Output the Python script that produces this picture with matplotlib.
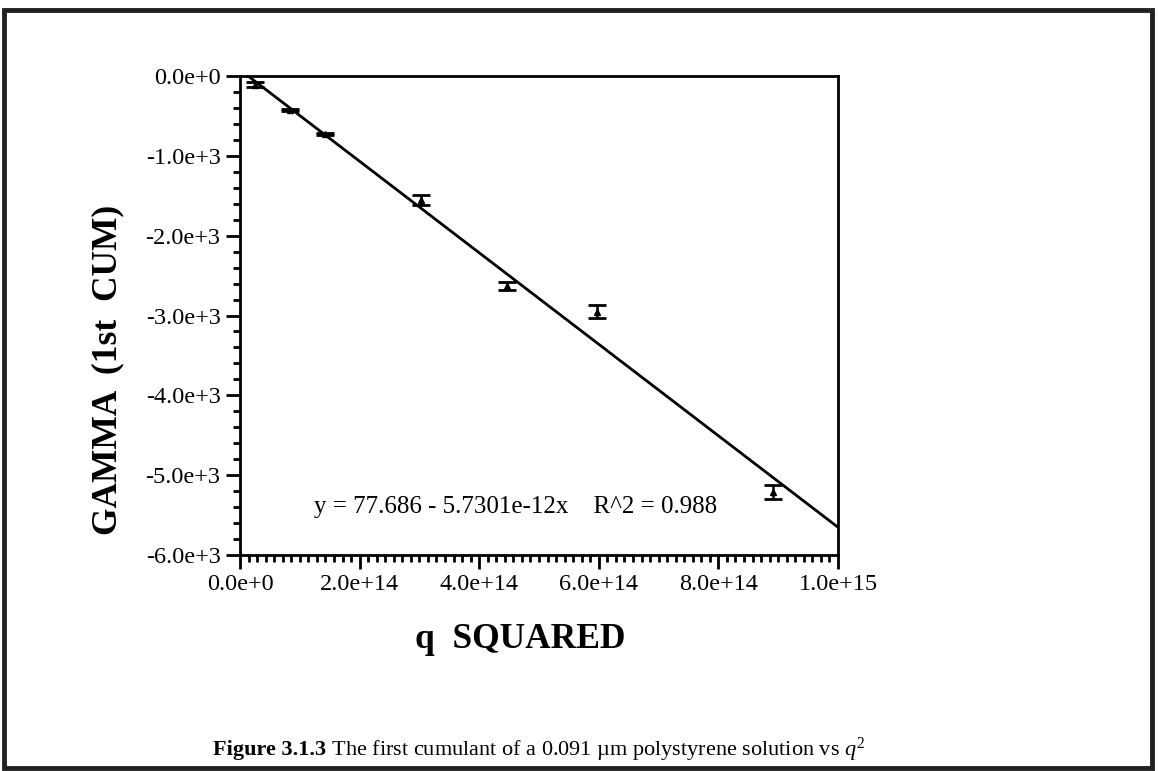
import matplotlib
matplotlib.use("Agg")
import matplotlib.pyplot as plt
import numpy as np
from matplotlib.ticker import MultipleLocator
from matplotlib.patches import Rectangle

# ---- data ----
q2 = [2.5e13, 8.4e13, 1.42e14, 3.03e14, 4.46e14, 5.97e14, 8.91e14]
gamma = [-110, -425, -727, -1550, -2630, -2950, -5210]
gamma_err = [30, 15, 15, 60, 50, 80, 90]
fit_a = 77.686
fit_b = -5.7301e-12
xticks = [0, 2e14, 4e14, 6e14, 8e14, 1e15]
xticklabels = ["0.0e+0", "2.0e+14", "4.0e+14", "6.0e+14", "8.0e+14", "1.0e+15"]
yticks = [0, -1000, -2000, -3000, -4000, -5000, -6000]
yticklabels = ["0.0e+0", "-1.0e+3", "-2.0e+3", "-3.0e+3", "-4.0e+3", "-5.0e+3", "-6.0e+3"]

plt.rcParams['font.family'] = ['Liberation Serif', 'DejaVu Serif']
plt.rcParams['mathtext.fontset'] = 'custom'
plt.rcParams['mathtext.rm'] = 'Liberation Serif'
plt.rcParams['mathtext.it'] = 'Liberation Serif:italic'


def fx(px):
    return px/1159


def fy(py):
    return 1-py/771


fig = plt.figure(figsize=(11.59, 7.71), dpi=100)
ax = fig.add_axes([fx(240), fy(555), (838-240)/1159, (555-76)/771])

xfit = np.array([0, 1e15])
ax.plot(xfit, fit_a + fit_b*xfit, color='black', lw=2, zorder=2)
ax.errorbar(q2, gamma, yerr=gamma_err, fmt='^', ms=4, color='black',
            ecolor='black', elinewidth=1.8, capsize=6.5, capthick=2, zorder=3)

ax.set_xlim(0, 1e15)
ax.set_ylim(-6000, 0)
ax.set_xticks(xticks)
ax.set_xticklabels(xticklabels)
ax.set_yticks(yticks)
ax.set_yticklabels(yticklabels)
ax.xaxis.set_minor_locator(MultipleLocator(2e13/1.4))
ax.yaxis.set_minor_locator(MultipleLocator(200))
ax.tick_params(axis='both', which='major', direction='out', length=10, width=2,
               labelsize=17.5, top=False, right=False, pad=4)
ax.tick_params(axis='both', which='minor', direction='out', length=5, width=2,
               top=False, right=False)
for s in ax.spines.values():
    s.set_linewidth(2)

fig.text(fx(516), fy(507), "y = 77.686 - 5.7301e-12x    R^2 = 0.988",
         fontsize=18, ha='center', va='center')

fig.text(fx(520), fy(640), "q  SQUARED", fontsize=25.5, fontweight='bold',
         ha='center', va='center')
fig.text(fx(108), fy(370), "GAMMA  (1st  CUM)", fontsize=25.5, fontweight='bold',
         ha='center', va='center', rotation=90)

# caption: bold part + regular part
renderer = fig.canvas.get_renderer()
cap_size = 16
t1 = fig.text(0, fy(750), "Figure 3.1.3", fontsize=cap_size, fontweight='bold',
              ha='left', va='center')
t2 = fig.text(0, fy(750), " The first cumulant of a 0.091 µm polystyrene solution vs $q^2$",
              fontsize=cap_size, ha='left', va='center')
w1 = t1.get_window_extent(renderer).width
w2 = t2.get_window_extent(renderer).width
start = 539 - (w1 + w2)/2
t1.set_x(fx(start))
t2.set_x(fx(start + w1))

# figure border
fig.add_artist(Rectangle((fx(4), fy(768)), fx(1152)-fx(4), fy(10)-fy(768),
                         transform=fig.transFigure, fill=False, lw=3.5,
                         edgecolor='#222222'))

fig.savefig("out.png", dpi=100)
